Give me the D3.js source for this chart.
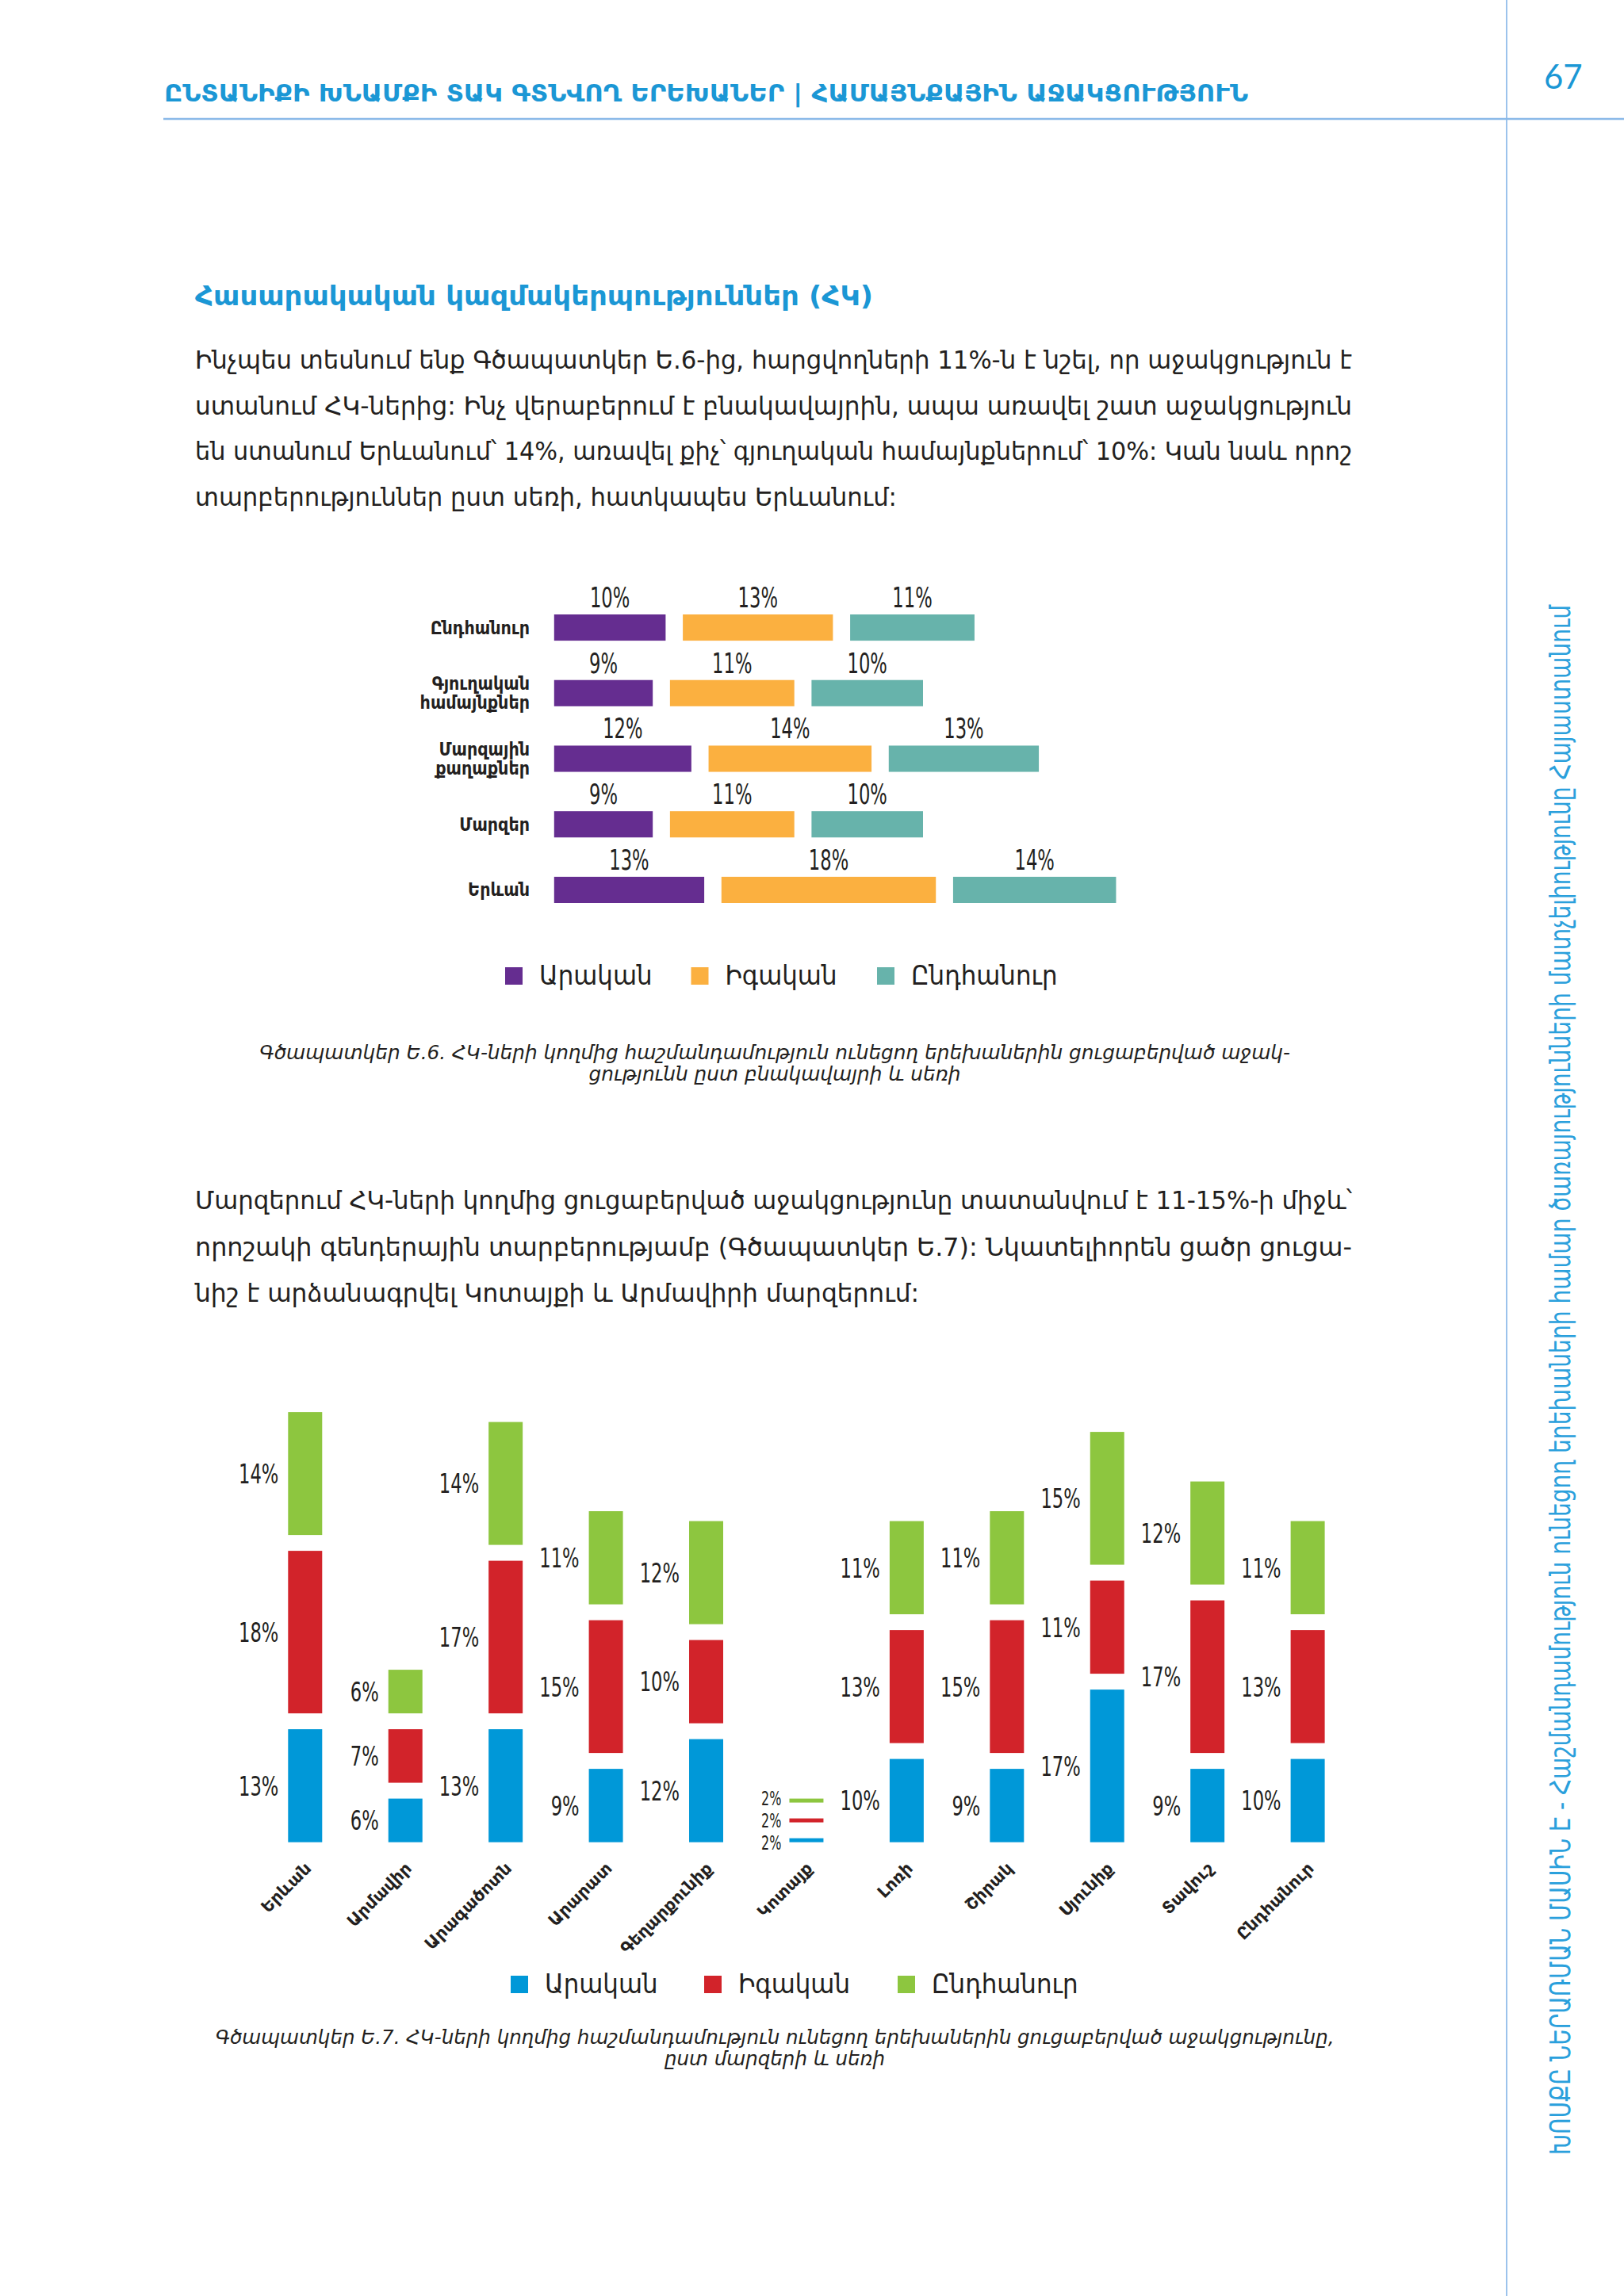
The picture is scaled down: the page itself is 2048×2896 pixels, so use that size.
<!DOCTYPE html>
<html>
<head>
<meta charset="utf-8">
<script src="https://cdn.jsdelivr.net/npm/d3@7"></script>
<style>
  body { margin: 0; background: #fff; }
  svg { display: block; }
  text { font-family: "DejaVu Sans Condensed", "DejaVu Sans", sans-serif; font-stretch: condensed; fill: #231f20; }
</style>
</head>
<body>
<svg id="page" width="2048" height="2896"></svg>
<script>
// ---- chart E.6: by settlement and sex
const settlements = ["Ընդհանուր", "Գյուղական համայնքներ", "Մարզային քաղաքներ", "Մարզեր", "Երևան"];
const sexKeys = ["Արական", "Իգական", "Ընդհանուր"];
const maleBySettlement = [10, 9, 12, 9, 13];
const femaleBySettlement = [13, 11, 14, 11, 18];
const totalBySettlement = [11, 10, 13, 10, 14];

// ---- chart E.7: by region and sex
const regions = ["Երևան", "Արմավիր", "Արագածոտն", "Արարատ", "Գեղարքունիք", "Կոտայք",
                 "Լոռի", "Շիրակ", "Սյունիք", "Տավուշ", "Ընդհանուր"];
const maleByRegion = [13, 6, 13, 9, 12, 2, 10, 9, 17, 9, 10];
const femaleByRegion = [18, 7, 17, 15, 10, 2, 13, 15, 11, 17, 13];
const totalByRegion = [14, 6, 14, 11, 12, 2, 11, 11, 15, 12, 11];

// ---- page text
const headerText = "ԸՆՏԱՆԻՔԻ ԽՆԱՄՔԻ ՏԱԿ ԳՏՆՎՈՂ ԵՐԵԽԱՆԵՐ | ՀԱՄԱՅՆՔԱՅԻՆ ԱՋԱԿՑՈՒԹՅՈՒՆ";
const pageNumber = "67";
const sideText = "ԽՈՍՔԸ ՆԵՐԱՌՄԱՆ ՄԱՍԻՆ Է - Հաշմանդամություն ունեցող երեխաների համար ծառայությունների մատչելիությունը Հայաստանում";
const sectionTitle = "Հասարակական կազմակերպություններ (ՀԿ)";
const para1 = [
  "Ինչպես տեսնում ենք Գծապատկեր Ե.6-ից, հարցվողների 11%-ն է նշել, որ աջակցություն է",
  "ստանում ՀԿ-ներից: Ինչ վերաբերում է բնակավայրին, ապա առավել շատ աջակցություն",
  "են ստանում Երևանում՝ 14%, առավել քիչ՝ գյուղական համայնքներում՝ 10%: Կան նաև որոշ",
  "տարբերություններ ըստ սեռի, հատկապես Երևանում:"
];
const para2 = [
  "Մարզերում ՀԿ-ների կողմից ցուցաբերված աջակցությունը տատանվում է 11-15%-ի միջև՝",
  "որոշակի գենդերային տարբերությամբ (Գծապատկեր Ե.7): Նկատելիորեն ցածր ցուցա-",
  "նիշ է արձանագրվել Կոտայքի և Արմավիրի մարզերում:"
];
const caption1 = [
  "Գծապատկեր Ե.6. ՀԿ-ների կողմից հաշմանդամություն ունեցող երեխաներին ցուցաբերված աջակ-",
  "ցությունն ըստ բնակավայրի և սեռի"
];
const caption2 = [
  "Գծապատկեր Ե.7. ՀԿ-ների կողմից հաշմանդամություն ունեցող երեխաներին ցուցաբերված աջակցությունը,",
  "ըստ մարզերի և սեռի"
];

const blue = "#1b97d5";
const svg = d3.select("#page");
svg.append("rect").attr("width", 2048).attr("height", 2896).attr("fill", "#fff");

// squeeze text horizontally by a factor
function squeeze(sel, f) {
  sel.each(function () {
    const w = this.getComputedTextLength();
    d3.select(this).attr("textLength", w * f).attr("lengthAdjust", "spacingAndGlyphs");
  });
}
function fitTo(node, width) {
  const w = node.getComputedTextLength();
  d3.select(node).attr("textLength", width).attr("lengthAdjust", "spacingAndGlyphs");
  return width / w;
}

// ---------- page furniture
svg.append("line").attr("x1", 1900).attr("x2", 1900).attr("y1", 0).attr("y2", 2896)
  .attr("stroke", "#9cc3ec").attr("stroke-width", 2);
svg.append("line").attr("x1", 206).attr("x2", 2048).attr("y1", 150).attr("y2", 150)
  .attr("stroke", "#8ab9e8").attr("stroke-width", 2.5);

const hdr = svg.append("text").attr("x", 207).attr("y", 128)
  .attr("font-size", 31).attr("font-weight", 600).style("fill", blue).text(headerText);
fitTo(hdr.node(), 1367);

svg.append("text").attr("x", 1947).attr("y", 112)
  .style("font-family", "Lato, 'Open Sans', sans-serif").style("font-stretch", "normal")
  .attr("font-size", 42).style("fill", blue).text(pageNumber);

const side = svg.append("text").attr("transform", "translate(1980,2718) rotate(-90)")
  .attr("font-size", 36).attr("font-weight", 300).style("fill", "#2aa0dc").text(sideText);
fitTo(side.node(), 1955);

const ttl = svg.append("text").attr("x", 246).attr("y", 385)
  .attr("font-size", 33).attr("font-weight", "bold").style("fill", blue).text(sectionTitle);
fitTo(ttl.node(), 855);

function paragraph(lines, y0, lh) {
  const nodes = lines.map((l, i) => svg.append("text").attr("x", 246).attr("y", y0 + i * lh)
    .attr("font-size", 32).text(l).node());
  const fs = nodes.slice(0, -1).map(n => fitTo(n, 1459));
  const last = nodes[nodes.length - 1];
  d3.select(last).attr("textLength", last.getComputedTextLength() * d3.mean(fs))
    .attr("lengthAdjust", "spacingAndGlyphs");
}
paragraph(para1, 465, 57.5);
paragraph(para2, 1525, 58.5);

function caption(lines, y0, width) {
  const nodes = lines.map((l, i) => svg.append("text").attr("x", 977).attr("y", y0 + i * 27)
    .attr("text-anchor", "middle").attr("font-size", 24).attr("font-style", "italic")
    .text(l).node());
  const f = fitTo(nodes[0], width);
  nodes.slice(1).forEach(n => d3.select(n).attr("textLength", n.getComputedTextLength() * f)
    .attr("lengthAdjust", "spacingAndGlyphs"));
}
caption(caption1, 1336, 1300);
caption(caption2, 2578, 1411);

function legend(colors, x0, step, y) {
  const g = svg.append("g");
  sexKeys.forEach((k, i) => {
    g.append("rect").attr("x", x0 + i * step).attr("y", y - 22).attr("width", 22).attr("height", 22)
      .attr("fill", colors[i]);
    g.append("text").attr("x", x0 + i * step + 43).attr("y", y).attr("font-size", 33).text(k);
  });
  squeeze(g.selectAll("text"), 1.04);
}

// ---------- chart E.6 (horizontal, side by side)
{
  const colors = ["#652d90", "#fbb040", "#67b3ab"];
  const rows = settlements.map((s, i) => ({
    name: s, vals: [maleBySettlement[i], femaleBySettlement[i], totalBySettlement[i]]
  }));
  const x = d3.scaleLinear().domain([0, 50]).range([698.8, 698.8 + 50 * 16.23]);
  const y = d3.scaleBand().domain(settlements).range([775, 1139]).paddingInner(0.6).paddingOuter(0);
  const gap = 21.7;
  const g = svg.append("g");
  rows.forEach(r => {
    let cum = 0;
    r.vals.forEach((v, j) => {
      const x0 = x(cum), x1 = x(cum + v) - gap;
      g.append("rect").attr("x", x0).attr("y", y(r.name)).attr("width", x1 - x0)
        .attr("height", y.bandwidth()).attr("fill", colors[j]);
      g.append("text").attr("class", "val").attr("x", (x0 + x1) / 2).attr("y", y(r.name) - 9)
        .attr("text-anchor", "middle").attr("font-size", 35).text(v + "%");
      cum += v;
    });
    const parts = r.name.split(" ");
    const cy = y(r.name) + y.bandwidth() / 2;
    parts.forEach((p, k) => {
      const by = parts.length === 1 ? cy + 8 : cy - 4.5 + k * 24;
      g.append("text").attr("x", 668).attr("y", by).attr("text-anchor", "end")
        .attr("font-size", 23).attr("font-weight", "bold").text(p);
    });
  });
  squeeze(g.selectAll("text.val"), 0.72);
  legend(colors, 637, 234.5, 1242);
}

// ---------- chart E.7 (vertical stacks with gaps)
{
  const colors = ["#0098d8", "#d2232a", "#8dc63f"];
  const cols = regions.map((r, i) => ({
    name: r, vals: [maleByRegion[i], femaleByRegion[i], totalByRegion[i]]
  }));
  const base = 2323.6;
  const x = d3.scaleBand().domain(regions).range([363.3, 1670.6]).paddingInner(0.66).paddingOuter(0);
  const y = d3.scaleLinear().domain([0, 50]).range([base, base - 50 * 12.5]);
  const gap = 20;
  const g = svg.append("g");
  cols.forEach(c => {
    let cum = 0;
    const tiny = d3.max(c.vals) * 12.5 < 34;   // thin stacks: labels packed tightly
    c.vals.forEach((v, j) => {
      const y0 = y(cum), y1 = y(cum + v) + gap;
      g.append("rect").attr("x", x(c.name)).attr("y", y1).attr("width", x.bandwidth())
        .attr("height", y0 - y1).attr("fill", colors[j]);
      g.append("text").attr("class", "val").attr("x", x(c.name) - (tiny ? 10 : 12))
        .attr("y", (y0 + y1) / 2 + (tiny ? (j - 1) * -3 : 0))
        .attr("dy", "0.36em").attr("text-anchor", "end").attr("font-size", tiny ? 24 : 34)
        .text(v + "%");
      cum += v;
    });
    const ax = x(c.name) + x.bandwidth() / 2 + 9;
    g.append("text").attr("transform", `translate(${ax},2358) rotate(-45)`)
      .attr("text-anchor", "end").attr("font-size", 21).attr("font-weight", "bold")
      .style("font-stretch", "normal").style("font-family", "'DejaVu Sans', sans-serif")
      .text(c.name);
  });
  squeeze(g.selectAll("text.val"), 0.74);
  legend(colors, 644, 244, 2514);
}
</script>
</body>
</html>
